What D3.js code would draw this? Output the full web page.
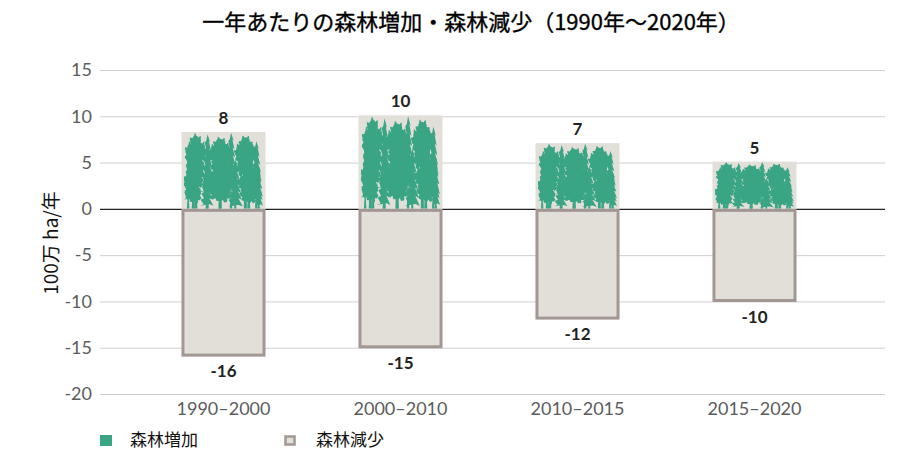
<!DOCTYPE html>
<html>
<head>
<meta charset="utf-8">
<script src="https://cdn.jsdelivr.net/npm/d3@7"></script>
<style>
  body { margin: 0; background: #fff; }
  svg { display: block; }
</style>
</head>
<body>
<svg id="chart" width="905" height="469"></svg>
<script>
// DATA
var periods = ['1990–2000', '2000–2010', '2010–2015', '2015–2020'];
var forestGain = [8.3, 10.1, 7.1, 5.1];
var forestLoss = [-15.8, -14.9, -11.8, -9.9];
var yTicks = [15, 10, 5, 0, -5, -10, -15, -20];
var legendLabels = ['森林増加', '森林減少'];

var GREEN = '#3aa584';
var BAR_BG = '#e2dfd9';
var LOSS_STROKE = '#a39793';

var svg = d3.select('#chart');

// SCALES
var x = d3.scaleBand()
          .domain(periods)
          .range([135, 843])
          .paddingInner(0.525)
          .paddingOuter(0.2625);
var y = d3.scaleLinear()
          .domain([-20, 15])
          .range([394, 70]);

// TITLE
svg.append('text')
   .attr('x', 471)
   .attr('y', 30)
   .attr('text-anchor', 'middle')
   .style('font-family', '"Noto Sans CJK JP", "Noto Sans", sans-serif')
   .style('font-size', '22px')
   .style('fill', '#000')
   .style('stroke', '#000')
   .style('stroke-width', 0.35)
   .text('一年あたりの森林増加・森林減少（1990年～2020年）');

// GRID + Y AXIS
var yAxis = svg.append('g')
               .attr('transform', 'translate(100,0)')
               .call(d3.axisLeft(y).tickValues(yTicks).tickSize(-785).tickPadding(8)
                       .tickFormat(function(d) { return String(d); }));
yAxis.select('.domain').remove();
yAxis.selectAll('.tick line')
     .style('stroke', function(d) { return d === 0 ? '#222' : '#cfcfcf'; })
     .style('stroke-width', function(d) { return d === 0 ? 1.3 : 1; });
yAxis.selectAll('.tick text')
     .style('font-family', 'Lato, "Noto Sans", sans-serif')
     .style('font-size', '18px')
     .style('fill', '#5c5c5c');

svg.append('text')
   .attr('transform', 'translate(58,243) rotate(-90)')
   .attr('text-anchor', 'middle')
   .style('font-family', '"Noto Sans CJK JP", "Noto Sans", sans-serif')
   .style('font-size', '19px')
   .style('fill', '#111')
   .text('100万 ha/年');

// X LABELS
var xAxis = svg.append('g')
               .attr('transform', 'translate(0,394)')
               .call(d3.axisBottom(x).tickSize(0).tickPadding(8));
xAxis.select('.domain').remove();
xAxis.selectAll('.tick text')
     .style('font-family', 'Lato, "Noto Sans", sans-serif')
     .style('font-size', '18px')
     .style('fill', '#5c5c5c');

// TREE SILHOUETTES (drawn in a 100x100 box, ground at y=100)
var defs = svg.append('defs');
var trees = defs.append('g').attr('id', 'trees');

function poly(pts) {
    trees.append('polygon')
         .attr('points', pts.map(function(p) { return p[0].toFixed(2) + ',' + p[1].toFixed(2); }).join(' '))
         .style('fill', GREEN);
}

function trunk(cx, w, ty) {
    poly([[cx - w * 0.4, ty], [cx + w * 0.4, ty], [cx + w, 100], [cx - w, 100]]);
}

// leafy jagged blob
function leaf(cx, cy, rx, ry, phase) {
    var pts = [];
    for (var k = 0; k < 48; k++) {
        var t = k / 48 * Math.PI * 2;
        var r = 1 + 0.16 * Math.sin(7 * t + phase) + 0.09 * Math.sin(15 * t + phase * 2);
        pts.push([cx + Math.cos(t) * rx * r, cy + Math.sin(t) * ry * r]);
    }
    poly(pts);
}

function pine(cx, w, ty, bottom) {
    var h = bottom - ty, n = 7, left = [], right = [];
    for (var i = 1; i <= n; i++) {
        var yi = ty + h * i / n;
        var hw = w / 2 * (0.3 + 0.7 * i / n);
        right.push([cx + hw, yi]);
        right.push([cx + hw * 0.45, yi - h * 0.035]);
        left.unshift([cx - hw * 0.45, yi - h * 0.035]);
        left.unshift([cx - hw, yi]);
    }
    poly([[cx, ty]].concat(right).concat(left));
    trunk(cx, 1.5, bottom - 4);
}

function broadleaf(cx, w, ty, bottom, phase) {
    var h = bottom - ty;
    trunk(cx, 1.8, ty + h * 0.5);
    leaf(cx, ty + h * 0.18, w * 0.3, h * 0.18, phase);
    leaf(cx - w * 0.25, ty + h * 0.36, w * 0.27, h * 0.2, phase + 1);
    leaf(cx + w * 0.26, ty + h * 0.34, w * 0.27, h * 0.2, phase + 2);
    leaf(cx - w * 0.12, ty + h * 0.66, w * 0.3, h * 0.2, phase + 3);
    leaf(cx + w * 0.14, ty + h * 0.7, w * 0.28, h * 0.2, phase + 4);
    leaf(cx, ty + h * 0.5, w * 0.36, h * 0.22, phase + 5);
}

// low layer
broadleaf(14, 22, 46, 97, 0.3);
broadleaf(46, 30, 44, 96, 1.1);
broadleaf(80, 24, 48, 97, 2.2);
pine(30, 16, 40, 96);
pine(64, 18, 36, 97);
pine(92, 10, 44, 96);
// tall trees
broadleaf(17, 24, 4, 70, 0.7);
pine(31, 16, 3, 78);
broadleaf(46, 26, 8, 64, 1.9);
pine(59, 16, 1, 76);
broadleaf(76, 24, 6, 66, 2.8);
pine(89, 16, 12, 84);
pine(8, 10, 24, 88);

defs.append('clipPath')
    .attr('id', 'unitClip')
    .append('rect')
    .attr('x', 3).attr('y', 0).attr('width', 94).attr('height', 100);

// POSITIVE BARS: forest gain
var gain = svg.append('g');
periods.forEach(function(p, i) {
    var bx = x(p), bw = x.bandwidth();
    var top = y(forestGain[i]), bh = y(0) - y(forestGain[i]);
    gain.append('rect')
        .attr('x', bx).attr('y', top)
        .attr('width', bw).attr('height', bh)
        .style('fill', BAR_BG);
    gain.append('g')
        .attr('transform', 'translate(' + bx + ',' + top + ') scale(' + (bw / 100) + ',' + (bh / 100) + ')')
        .append('g')
        .attr('clip-path', 'url(#unitClip)')
        .append('use')
        .attr('href', '#trees');
    gain.append('text')
        .attr('x', bx + bw / 2)
        .attr('y', top - 8)
        .attr('text-anchor', 'middle')
        .style('font-family', 'Lato, "Noto Sans", sans-serif')
        .style('font-weight', 'bold')
        .style('font-size', '17px')
        .style('fill', '#222')
        .text(Math.round(forestGain[i]));
});

// NEGATIVE BARS: forest loss
var loss = svg.append('g');
periods.forEach(function(p, i) {
    var bx = x(p), bw = x.bandwidth();
    loss.append('rect')
        .attr('x', bx + 1.5).attr('y', y(0) + 1.5)
        .attr('width', bw - 3).attr('height', y(forestLoss[i]) - y(0) - 1.5)
        .style('fill', BAR_BG)
        .style('stroke', LOSS_STROKE)
        .style('stroke-width', 3);
    loss.append('text')
        .attr('x', bx + bw / 2)
        .attr('y', y(forestLoss[i]) + 22)
        .attr('text-anchor', 'middle')
        .style('font-family', 'Lato, "Noto Sans", sans-serif')
        .style('font-weight', 'bold')
        .style('font-size', '17px')
        .style('fill', '#222')
        .text(Math.round(forestLoss[i]));
});

// LEGEND
var legend = svg.append('g');
legend.append('rect')
      .attr('x', 100).attr('y', 435).attr('width', 12).attr('height', 11)
      .style('fill', GREEN);
legend.append('rect')
      .attr('x', 285.5).attr('y', 436.5).attr('width', 9).attr('height', 8)
      .style('fill', BAR_BG)
      .style('stroke', LOSS_STROKE)
      .style('stroke-width', 2.5);
legend.selectAll('text.legendLabel')
      .data(legendLabels)
      .enter()
      .append('text')
      .attr('class', 'legendLabel')
      .attr('x', function(d, i) { return i === 0 ? 130 : 316; })
      .attr('y', 446)
      .style('font-family', '"Noto Sans CJK JP", "Noto Sans", sans-serif')
      .style('font-size', '17px')
      .style('fill', '#111')
      .text(function(d) { return d; });
</script>
</body>
</html>
